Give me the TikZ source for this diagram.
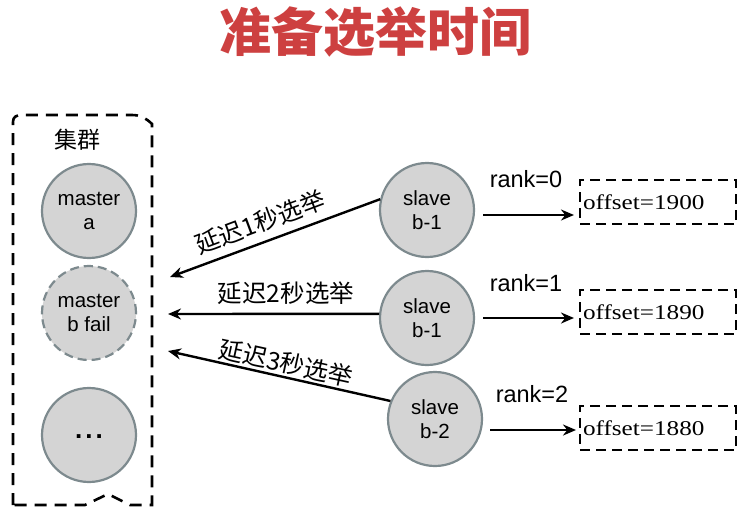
\documentclass[tikz,border=0pt]{standalone}
\usepackage{fontspec}
\setmainfont{Liberation Sans}
\newfontfamily\cjk{Noto Sans CJK SC}
\newfontfamily\offfont[FakeStretch=1.2]{Liberation Serif}
\usetikzlibrary{arrows.meta}
\definecolor{cgray}{RGB}{125,138,142}
\definecolor{cfill}{RGB}{212,212,212}
\definecolor{titlered}{RGB}{205,64,64}
\begin{document}
\begin{tikzpicture}[x=1pt,y=-1pt,
  circ/.style={circle, draw=cgray, fill=cfill, line width=2.2pt, minimum size=94pt, inner sep=0pt, align=center, font=\fontsize{20.5}{24}\selectfont},
  arr/.style={-{Stealth[length=13pt,width=11pt]}, line width=2.4pt},
  offbox/.style={draw, dash pattern=on 10pt off 6pt, line width=2.6pt, minimum height=44pt, inner sep=3pt, text width=150pt, align=left, font=\offfont\fontsize{21}{22}\selectfont},
  lab/.style={font=\cjk\fontsize{24.5}{24}\selectfont},
  rk/.style={font=\fontsize{23.5}{24}\selectfont}
]
\useasboundingbox (0,0) rectangle (744,515);
\node[font=\cjk\bfseries\fontsize{52}{52}\selectfont, text=titlered] (title) at (375,32) {准备选举时间};

% cluster box
\draw[line width=2.6pt, dash pattern=on 12pt off 8pt]
  (13,505) -- (13,122) .. controls (13,117) and (16,115) .. (22,115)
  -- (132,115) .. controls (140,115) and (146,118) .. (152,124)
  -- (152,505) -- (130,505) -- (108,494) -- (85,505) -- cycle;
\node[font=\cjk\fontsize{23}{23}\selectfont] (jq) at (77,140) {集群};
\node[circ] (ma) at (89,211) {master\\a};
\node[circ, dash pattern=on 9pt off 5pt] (mb) at (89,313) {master\\b fail};
\node[circ, font=\bfseries\fontsize{26}{26}\selectfont] (md) at (89,435) {\raisebox{-6pt}{.\hspace{3pt}.\hspace{3pt}.}};

% slaves
\node[circ] (s1) at (427,210) {slave\\b-1};
\node[circ] (s2) at (427,318) {slave\\b-1};
\node[circ] (s3) at (435,419) {slave\\b-2};

% offset boxes
\node[offbox] (o1) at (658,202) {offset=1900};
\node[offbox] (o2) at (658,312) {offset=1890};
\node[offbox] (o3) at (658,428) {offset=1880};

% rank arrows
\coordinate (r1a) at (483,215); \coordinate (r1b) at (574,215);
\coordinate (r2a) at (483,318); \coordinate (r2b) at (574,318);
\coordinate (r3a) at (490,430); \coordinate (r3b) at (576,430);
\draw[arr] (r1a) -- (r1b);
\draw[arr] (r2a) -- (r2b);
\draw[arr] (r3a) -- (r3b);
\node[rk] (k1) at (526,179) {rank=0};
\node[rk] (k2) at (526,283) {rank=1};
\node[rk] (k3) at (532,394) {rank=2};

% election arrows
\coordinate (c1) at (170,277);
\coordinate (c2) at (168,314);
\coordinate (c3) at (168,351);
\draw[arr] (s1.167) -- (c1);
\draw[arr] (s2.175) -- (c2);
\draw[arr] (s3.158) -- (c3);
\node[lab, rotate=20.6] (l1) at (260,222) {延迟1秒选举};
\node[lab] (l2) at (286,293) {延迟2秒选举};
\node[lab, rotate=-12.3] (l3) at (286,363) {延迟3秒选举};
\end{tikzpicture}
\end{document}
